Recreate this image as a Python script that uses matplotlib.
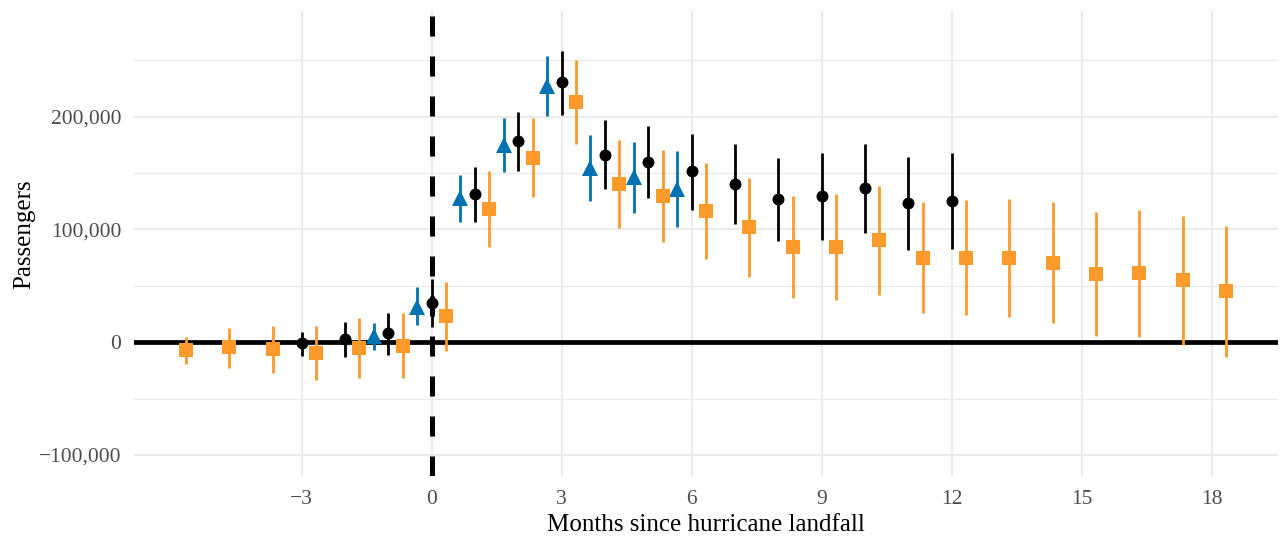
import numpy as np
import matplotlib
matplotlib.use("Agg")
import matplotlib.pyplot as plt
from matplotlib.ticker import FuncFormatter, MultipleLocator, FixedLocator

plt.rcParams['font.family'] = ['Liberation Serif', 'DejaVu Serif']

# Event-study estimates (passengers) with confidence bounds, by month since landfall
black_months = np.arange(-3, 13)
black_est = [-600, 2700, 7700, 34400, 131300, 178000, 230800, 166200, 160000,
             151400, 140400, 127100, 129200, 136300, 123300, 125300]
black_lo = [-12400, -13000, -11600, 13000, 106400, 151400, 201800, 136000, 127700,
            117300, 104900, 89800, 90700, 96600, 81800, 82400]
black_hi = [9200, 18000, 26000, 55700, 155000, 204000, 258700, 196700, 191400,
            184600, 175700, 163300, 167700, 176000, 164200, 167700]

blue_months = np.arange(-1, 7)
blue_est = [5500, 31000, 128000, 175000, 227000, 154400, 146200, 135600]
blue_lo = [-7000, 15000, 107000, 150500, 200300, 125300, 115000, 102000]
blue_hi = [17000, 49000, 148400, 198800, 253600, 183400, 177500, 169200]

orange_months = np.arange(-6, 19)
orange_est = [-7400, -4700, -6500, -10000, -5600, -3000, 23000, 118200, 163300,
              213000, 140400, 129800, 116400, 102000, 84400, 84400, 90700, 74700,
              74700, 74400, 70000, 60200, 61000, 54800, 45000]
orange_lo = [-19600, -22500, -27800, -33800, -32000, -32000, -7700, 84700, 128600,
             176000, 101000, 89200, 73800, 58000, 38800, 37300, 41800, 25500,
             24000, 22000, 16600, 5300, 4700, -2700, -13600]
orange_hi = [4700, 12200, 14200, 14200, 21000, 26000, 53600, 151400, 198800,
             250700, 179600, 170700, 158800, 146000, 129800, 131300, 138700, 124700,
             126200, 126800, 124200, 115300, 117300, 112300, 103400]

x_ticks = [-3, 0, 3, 6, 9, 12, 15, 18]

dodge = 1 / 3
grid_col = '#EBEBEB'
tick_col = '#4D4D4D'

fig = plt.figure(figsize=(12.81, 5.36), dpi=100)
ax = fig.add_axes([0.1046, 0.1119, 0.8931, 0.8676])

# reference lines
ax.axhline(0, color='black', lw=3.4, zorder=2)
ax.axvline(0, color='black', lw=3.6, dashes=(4, 4), zorder=2)

series = [
    (black_months, black_est, black_lo, black_hi, 0.0, 'black', 'o', 8.6),
    (blue_months, blue_est, blue_lo, blue_hi, -dodge, '#0072B2', '^', 11.5),
    (orange_months, orange_est, orange_lo, orange_hi, dodge, '#FC9A2B', 's', 9.4),
]
for months, est, lo, hi, off, col, mk, ms in series:
    x = months + off
    ax.vlines(x, lo, hi, color=col, lw=2.0, zorder=3)
    ax.plot(x, est, linestyle='none', marker=mk, ms=ms, color=col,
            markeredgewidth=0, zorder=4)

# axes limits with 5% padding around the data span
xmin, xmax = -6 + dodge, 18 + dodge
xpad = 0.05 * (xmax - xmin)
ax.set_xlim(xmin - xpad, xmax + xpad)
ymin, ymax = -100000, 275000
ypad = 0.05 * (ymax - ymin)
ax.set_ylim(ymin - ypad, ymax + ypad)

ax.xaxis.set_major_locator(FixedLocator(x_ticks))
ax.yaxis.set_major_locator(MultipleLocator(100000))
ax.yaxis.set_minor_locator(MultipleLocator(50000))

fmt_num = lambda v, pos: f"{v:,.0f}".replace('-', '\u2212')
ax.xaxis.set_major_formatter(FuncFormatter(fmt_num))
ax.yaxis.set_major_formatter(FuncFormatter(fmt_num))

ax.grid(True, which='major', color=grid_col, lw=1.5, zorder=0)
ax.grid(True, which='minor', axis='y', color=grid_col, lw=1.0, zorder=0)
ax.set_axisbelow(True)

for s in ax.spines.values():
    s.set_visible(False)
ax.tick_params(which='both', length=0, labelsize=15.5, labelcolor=tick_col)
ax.tick_params(axis='y', pad=9)
ax.tick_params(axis='x', pad=10)

ax.set_xlabel('Months since hurricane landfall', fontsize=18, labelpad=4)
ax.set_ylabel('Passengers', fontsize=18, labelpad=4)
ax.yaxis.set_label_coords(-0.086, 0.52)

fig.savefig('out.png', dpi=100)
